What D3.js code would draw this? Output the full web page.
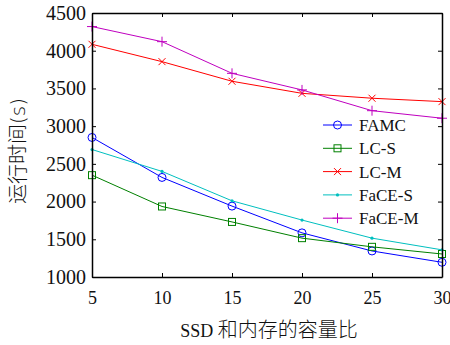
<!DOCTYPE html>
<html>
<head>
<meta charset="utf-8">
<script src="https://cdn.jsdelivr.net/npm/d3@7"></script>
<style>
  body { margin: 0; background: #fff; }
  text { font-family: "Liberation Serif", "Times New Roman", serif; fill: #111; }
  .cjk { font-family: "Noto Sans CJK SC", sans-serif; font-weight: 300; }
</style>
</head>
<body>
<svg id="chart" width="450" height="345"></svg>
<script>
// data
var ratios = [5, 10, 15, 20, 25, 30];
var famc  = [2850, 2320, 1940, 1585, 1345, 1195];
var lcS   = [2350, 1935, 1730, 1515, 1400, 1305];
var lcM   = [4085, 3855, 3595, 3435, 3370, 3325];
var faceS = [2690, 2400, 2010, 1755, 1515, 1360];
var faceM = [4320, 4120, 3700, 3480, 3205, 3105];
var xTicks = [5, 10, 15, 20, 25, 30];
var yTicks = [1000, 1500, 2000, 2500, 3000, 3500, 4000, 4500];

var series = [
  { name: "FAMC",   values: famc,  color: "#0000ff", marker: "circle" },
  { name: "LC-S",   values: lcS,   color: "#008000", marker: "square" },
  { name: "LC-M",   values: lcM,   color: "#ff0000", marker: "x" },
  { name: "FaCE-S", values: faceS, color: "#00bfbf", marker: "dot" },
  { name: "FaCE-M", values: faceM, color: "#bf00bf", marker: "plus" }
];

var svg = d3.select("#chart");
// plot box (window.top is reserved, so use other names)
var pLeft = 92, pRight = 442, pTop = 13, pBottom = 277;

var x = d3.scaleLinear().domain([5, 30]).range([pLeft, pRight]);
var y = d3.scaleLinear().domain([1000, 4500]).range([pBottom, pTop]);

var line = d3.line()
  .x(function (d, i) { return x(ratios[i]); })
  .y(function (d) { return y(d); });

function drawMarker(g, type, cx, cy, color) {
  if (type === "circle") {
    g.append("circle").attr("cx", cx).attr("cy", cy).attr("r", 4)
      .attr("fill", "none").attr("stroke", color).attr("stroke-width", 1);
  } else if (type === "square") {
    g.append("rect").attr("x", cx - 3.5).attr("y", cy - 3.5).attr("width", 7).attr("height", 7)
      .attr("fill", "none").attr("stroke", color).attr("stroke-width", 1);
  } else if (type === "x") {
    g.append("path").attr("d", "M" + (cx - 3.5) + "," + (cy - 3.5) + "L" + (cx + 3.5) + "," + (cy + 3.5) +
      "M" + (cx - 3.5) + "," + (cy + 3.5) + "L" + (cx + 3.5) + "," + (cy - 3.5))
      .attr("stroke", color).attr("stroke-width", 1);
  } else if (type === "plus") {
    g.append("path").attr("d", "M" + (cx - 5) + "," + cy + "L" + (cx + 5) + "," + cy +
      "M" + cx + "," + (cy - 5) + "L" + cx + "," + (cy + 5))
      .attr("stroke", color).attr("stroke-width", 1);
  } else {
    g.append("circle").attr("cx", cx).attr("cy", cy).attr("r", 1.6).attr("fill", color);
  }
}

series.forEach(function (s) {
  var g = svg.append("g");
  g.append("path").datum(s.values).attr("d", line)
    .attr("fill", "none").attr("stroke", s.color).attr("stroke-width", 1);
  s.values.forEach(function (v, i) {
    drawMarker(g, s.marker, x(ratios[i]), y(v), s.color);
  });
});

// axes, ticks inside on all four sides
var tl = 4;
svg.append("g").attr("transform", "translate(0," + pBottom + ")")
  .call(d3.axisBottom(x).tickValues(xTicks).tickSizeInner(-tl).tickSizeOuter(0).tickPadding(14))
  .call(function (g) { g.selectAll("text").attr("font-size", 18).attr("font-family", "Liberation Serif"); });
svg.append("g").attr("transform", "translate(0," + pTop + ")")
  .call(d3.axisTop(x).tickValues(xTicks).tickSizeInner(-tl).tickSizeOuter(0).tickFormat(""));
svg.append("g").attr("transform", "translate(" + pLeft + ",0)")
  .call(d3.axisLeft(y).tickValues(yTicks).tickFormat(d3.format("d")).tickSizeInner(-tl).tickSizeOuter(0).tickPadding(6))
  .call(function (g) { g.selectAll("text").attr("font-size", 20).attr("font-family", "Liberation Serif"); });
svg.append("g").attr("transform", "translate(" + pRight + ",0)")
  .call(d3.axisRight(y).tickValues(yTicks).tickSizeInner(-tl).tickSizeOuter(0).tickFormat(""));

svg.selectAll(".domain").attr("stroke", "#000").attr("stroke-width", 1.5);
svg.selectAll(".tick line").attr("stroke", "#000");

// legend
var leg = svg.append("g");
series.forEach(function (s, i) {
  var ly = 125 + i * 23.3;
  leg.append("line").attr("x1", 323).attr("x2", 352).attr("y1", ly).attr("y2", ly)
    .attr("stroke", s.color).attr("stroke-width", 1);
  drawMarker(leg, s.marker, 337.5, ly, s.color);
  leg.append("text").attr("x", 359).attr("y", ly + 6).attr("font-size", 17).text(s.name);
});

// axis titles
var xt = svg.append("text").attr("x", 269).attr("y", 337).attr("text-anchor", "middle").attr("font-size", 18);
xt.append("tspan").text("SSD ");
xt.append("tspan").attr("class", "cjk").attr("font-size", 20).text("和内存的容量比");

var yt = svg.append("text").attr("transform", "translate(25,151) rotate(-90)")
  .attr("text-anchor", "middle").attr("font-size", 20);
yt.append("tspan").attr("class", "cjk").text("运行时间");
yt.append("tspan").attr("font-family", "DejaVu Sans").attr("font-weight", 300).text("(s)");
</script>
</body>
</html>
